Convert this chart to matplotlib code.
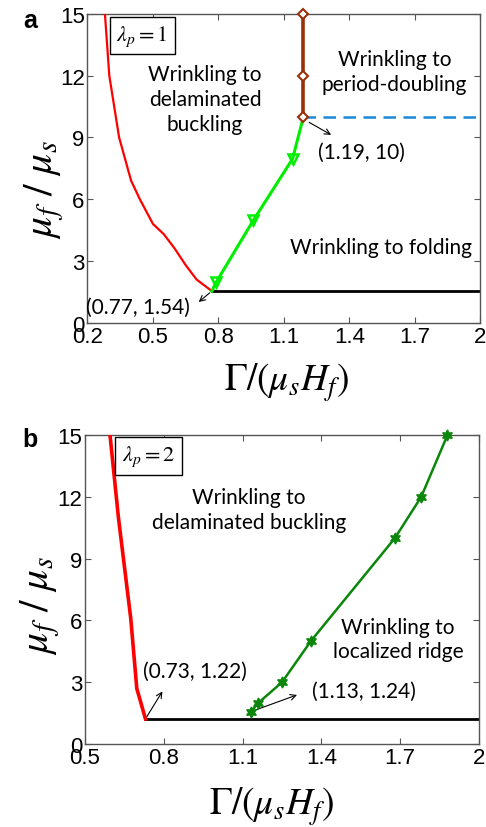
import matplotlib
matplotlib.use("Agg")
import matplotlib.pyplot as plt
from matplotlib.ticker import FixedLocator

plt.rcParams['mathtext.fontset'] = 'stix'
plt.rcParams['font.family'] = ['Liberation Sans', 'DejaVu Sans']

# ---------------- Panel a data (lambda_p = 1) ----------------
a_red_x = [0.28, 0.30, 0.345, 0.40, 0.44, 0.50, 0.55, 0.60, 0.65, 0.70, 0.77]
a_red_y = [15.0, 12.0, 9.0, 6.9, 6.0, 4.8, 4.3, 3.6, 2.8, 2.1, 1.54]
a_green_x = [0.77, 0.79, 0.96, 1.14, 1.19]
a_green_y = [1.54, 1.97, 4.97, 7.96, 10.0]
a_green_mark_x = [0.79, 0.96, 1.14]
a_green_mark_y = [1.97, 4.97, 7.96]
a_brown_x = [1.19, 1.19, 1.19]
a_brown_y = [10.0, 12.0, 15.0]
a_black_x = [0.77, 2.0]
a_black_y = [1.54, 1.54]
a_blue_x = [1.19, 2.0]
a_blue_y = [10.0, 10.0]
a_xticks = [0.2, 0.5, 0.8, 1.1, 1.4, 1.7, 2.0]
a_xticklabels = ['0.2', '0.5', '0.8', '1.1', '1.4', '1.7', '2']

# ---------------- Panel b data (lambda_p = 2) ----------------
b_red_x = [0.595, 0.627, 0.674, 0.697, 0.73]
b_red_y = [15.0, 11.0, 6.1, 2.7, 1.22]
b_green_x = [1.13, 1.16, 1.25, 1.36, 1.68, 1.78, 1.88]
b_green_y = [1.54, 2.0, 3.0, 5.0, 10.0, 12.0, 15.0]
b_black_x = [0.73, 2.0]
b_black_y = [1.22, 1.22]
b_xticks = [0.5, 0.8, 1.1, 1.4, 1.7, 2.0]
b_xticklabels = ['0.5', '0.8', '1.1', '1.4', '1.7', '2']

yticks = [0, 3, 6, 9, 12, 15]
yticklabels = ['0', '3', '6', '9', '12', '15']

TXT_FONT = ['Lato', 'DejaVu Sans']
TXT_SIZE = 15
TICK_SIZE = 16
LS = 1.3

fig = plt.figure(figsize=(4.86, 8.28), dpi=100)
ax_a = fig.add_axes([0.18, 0.609, 0.808, 0.373])
ax_b = fig.add_axes([0.175, 0.1002, 0.8106, 0.3732])


def style(ax, xlim, xticks, xticklabels):
    ax.set_xlim(*xlim)
    ax.set_ylim(0, 15)
    ax.xaxis.set_major_locator(FixedLocator(xticks))
    ax.set_xticklabels(xticklabels)
    ax.yaxis.set_major_locator(FixedLocator(yticks))
    ax.set_yticklabels(yticklabels)
    ax.tick_params(direction='in', top=True, right=True, length=4, width=0.8,
                   color='#555555', labelsize=TICK_SIZE, pad=2)
    for s in ax.spines.values():
        s.set_color('#555555')
        s.set_linewidth(1.0)
    ax.set_ylabel(r'$\mu_f\ /\ \mu_s$', fontsize=30, va='center')
    ax.set_xlabel(r'$\Gamma/\left(\mu_s H_f\right)$', fontsize=27, va='center')


# ---------------- Panel a ----------------
ax = ax_a
ax.plot(a_red_x, a_red_y, color='red', lw=1.6, zorder=3)
ax.plot(a_black_x, a_black_y, color='black', lw=2.0, zorder=2)
ax.plot(a_blue_x, a_blue_y, color='#1a8ad4', lw=1.8, ls=(0, (5, 3)), zorder=2)
ax.plot(a_green_x, a_green_y, color='#00ee00', lw=2.2, zorder=3)
ax.plot(a_green_mark_x, a_green_mark_y, ls='none', marker='v', ms=7,
        mfc='none', mec='#00ee00', mew=1.8, zorder=4)
ax.plot(a_brown_x, a_brown_y, color='#9a3008', lw=2.6, marker='D', ms=5,
        mfc='white', mec='#9a3008', mew=1.5, zorder=5, clip_on=False)
style(ax, (0.2, 2.0), a_xticks, a_xticklabels)
ax.yaxis.set_label_coords(-0.11, 0.434)
ax.xaxis.set_label_coords(0.508, -0.19)

ax.text(0.739, 10.87, 'Wrinkling to\ndelaminated\nbuckling', ha='center', va='center',
        fontsize=TXT_SIZE, family=TXT_FONT, linespacing=LS)
ax.text(1.607, 12.2, 'Wrinkling to\nperiod-doubling', ha='center', va='center',
        fontsize=TXT_SIZE, family=TXT_FONT, linespacing=LS)
ax.text(1.546, 3.67, 'Wrinkling to folding', ha='center', va='center',
        fontsize=TXT_SIZE, family=TXT_FONT)
ax.text(0.43, 0.75, '(0.77, 1.54)', ha='center', va='center',
        fontsize=TXT_SIZE, family=TXT_FONT)
ax.annotate('', xy=(0.70, 0.92), xytext=(0.77, 1.54),
            arrowprops=dict(arrowstyle='->', lw=0.8, color='black'))
ax.text(1.455, 8.28, '(1.19, 10)', ha='center', va='center',
        fontsize=TXT_SIZE, family=TXT_FONT)
ax.annotate('', xy=(1.328, 9.06), xytext=(1.205, 9.8),
            arrowprops=dict(arrowstyle='->', lw=0.8, color='black'))
ax.text(0.139, 0.93, r'$\lambda_p = 1$', transform=ax.transAxes, ha='center', va='center',
        fontsize=16, bbox=dict(boxstyle='square,pad=0.3', fc='white', ec='black', lw=1.0))
fig.text(0.062, 0.975, 'a', fontsize=18, fontweight='bold', ha='center', va='center')

# ---------------- Panel b ----------------
ax = ax_b
ax.plot(b_red_x, b_red_y, color='red', lw=2.6, zorder=3)
ax.plot(b_black_x, b_black_y, color='black', lw=2.0, zorder=2)
ax.plot(b_green_x, b_green_y, color='#0a870a', lw=1.8, marker=(6, 1, 0), ms=8,
        mfc='#0a870a', mec='#0a870a', zorder=4, clip_on=False)
style(ax, (0.5, 2.0), b_xticks, b_xticklabels)
ax.yaxis.set_label_coords(-0.114, 0.453)
ax.xaxis.set_label_coords(0.475, -0.2)

ax.text(1.123, 11.4, 'Wrinkling to\ndelaminated buckling', ha='center', va='center',
        fontsize=TXT_SIZE, family=TXT_FONT, linespacing=LS)
ax.text(1.692, 5.1, 'Wrinkling to\nlocalized ridge', ha='center', va='center',
        fontsize=TXT_SIZE, family=TXT_FONT, linespacing=LS)
ax.text(0.92, 3.55, '(0.73, 1.22)', ha='center', va='center',
        fontsize=TXT_SIZE, family=TXT_FONT)
ax.annotate('', xy=(0.80, 2.67), xytext=(0.73, 1.22),
            arrowprops=dict(arrowstyle='->', lw=0.8, color='black'))
ax.text(1.56, 2.59, '(1.13, 1.24)', ha='center', va='center',
        fontsize=TXT_SIZE, family=TXT_FONT)
ax.annotate('', xy=(1.317, 2.43), xytext=(1.142, 1.62),
            arrowprops=dict(arrowstyle='->', lw=0.8, color='black'))
ax.text(0.161, 0.932, r'$\lambda_p = 2$', transform=ax.transAxes, ha='center', va='center',
        fontsize=16, bbox=dict(boxstyle='square,pad=0.3', fc='white', ec='black', lw=1.0))
fig.text(0.062, 0.468, 'b', fontsize=18, fontweight='bold', ha='center', va='center')

fig.savefig('out.png', dpi=100)
